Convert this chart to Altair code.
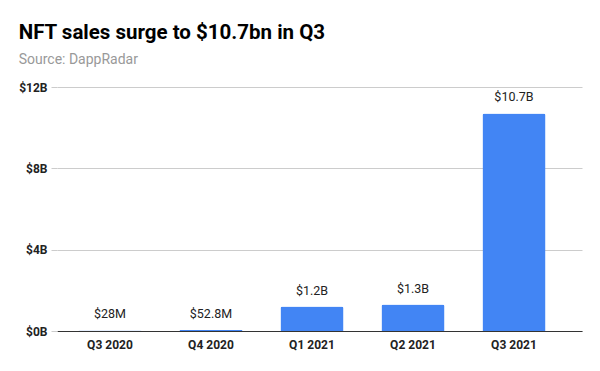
import altair as alt
import pandas as pd

quarters = ["Q3 2020", "Q4 2020", "Q1 2021", "Q2 2021", "Q3 2021"]
sales_bn = [0.028, 0.0528, 1.2, 1.3, 10.7]
labels = ["$28M", "$52.8M", "$1.2B", "$1.3B", "$10.7B"]

df = pd.DataFrame({"quarter": quarters, "sales": sales_bn, "label": labels})

base = alt.Chart(df).encode(
    x=alt.X("quarter:N", sort=quarters, title=None,
            scale=alt.Scale(paddingInner=0.376, paddingOuter=0.287, align=0.37),
            axis=alt.Axis(labelAngle=0, labelFont="Roboto", labelFontWeight="bold",
                          labelFontSize=12, labelColor="#222", ticks=False,
                          domainColor="#333", domainWidth=1, labelPadding=8)),
    y=alt.Y("sales:Q", title=None,
            scale=alt.Scale(domain=[0, 12]),
            axis=alt.Axis(values=[0, 4, 8, 12], labelExpr="'$' + datum.value + 'B'",
                          labelFont="Roboto", labelFontWeight="bold", labelFontSize=12,
                          labelColor="#222", domain=False, gridColor="#cccccc",
                          tickColor="#cccccc", tickSize=6, labelPadding=4)),
)

bars = base.mark_bar(color="#4285F4", cornerRadiusTopLeft=2, cornerRadiusTopRight=2)
text = base.mark_text(dy=-16, font="Roboto", fontSize=12.5, color="#222").encode(text="label:N")

chart = (bars + text).properties(
    width=525, height=244,
    autosize=alt.AutoSizeParams(type="none"),
    padding={"left": 49, "top": 79, "right": 10, "bottom": 30},
    title=alt.Title("NFT sales surge to $10.7bn in Q3", subtitle="Source: DappRadar",
                    anchor="start", font="Roboto", fontSize=20.5, fontWeight="bold",
                    color="#000", subtitleFont="Roboto", subtitleFontSize=14,
                    subtitleColor="#999", subtitlePadding=10, offset=14),
).configure_view(stroke=None)

chart.save("out.html", embed_options={"renderer": "svg", "actions": False})
